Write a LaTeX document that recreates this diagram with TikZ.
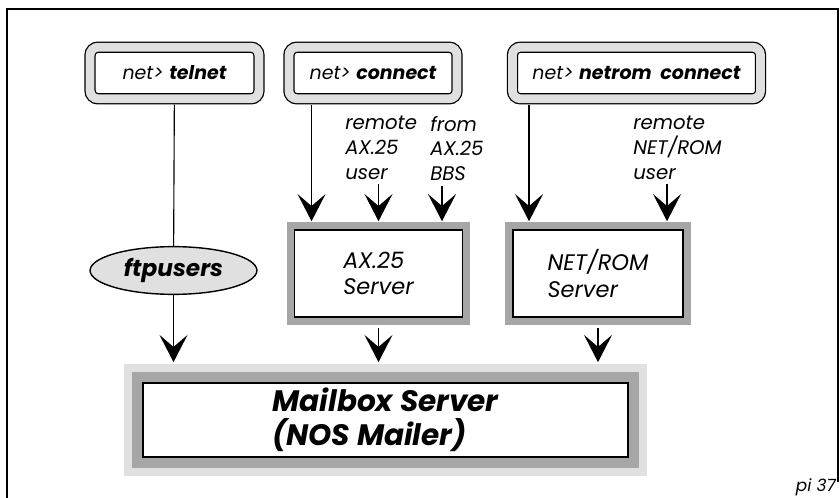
\documentclass[tikz,border=0pt]{standalone}
\usepackage{fontspec}
\setmainfont{Poppins}
\usepackage{tikz}
\usetikzlibrary{arrows.meta, shapes.geometric}

\begin{document}
\begin{tikzpicture}[x=0.025cm, y=-0.025cm,
  cmd/.style={draw, line width=0.9pt, double=black!12, double distance=0.22cm,
    rounded corners=0.2cm, fill=white, minimum height=1.29cm,
    font=\fontsize{13.5}{15}\selectfont\itshape},
  server/.style={draw, line width=1.2pt, fill=white,
    preaction={draw=black!35, line width=0.38cm},
    minimum width=4.2cm, minimum height=2.17cm, align=left,
    font=\fontsize{16}{19}\selectfont\itshape},
  lbl/.style={anchor=north west, inner sep=0pt, align=left,
    font=\fontsize{14}{17.5}\selectfont\itshape},
  arr/.style={line width=0.8pt, -{Stealth[length=0.68cm, width=0.7cm, inset=0.3cm]}}]
\useasboundingbox (0,0) rectangle (840,498);
\draw[line width=1pt] (7,498) -- (7,9) -- (838,9) -- (838,482);
\node[cmd, minimum width=4.22cm] (telnet) at (174.5,73) {net> \textbf{telnet}};
\node[cmd, minimum width=4.2cm] (connect) at (373,73) {net> \textbf{connect}};
\node[cmd, minimum width=6.2cm] (netrom) at (636.5,73) {net> \textbf{netrom\ \ connect}};
\node[ellipse, draw, line width=1pt, fill=black!12, minimum width=4.17cm, minimum height=1.13cm,
  font=\fontsize{16.5}{18}\selectfont\bfseries\itshape] (ftp) at (173.5,270.5) {ftpusers};
\node[server] (axsrv) at (378.5,273.5) {AX.25\\Server};
\node[server, minimum width=4.25cm] (nrsrv) at (598,273.5) {NET/ROM\\Server};
\node[draw, line width=1.2pt, fill=white,
  preaction={draw=black!12, line width=0.95cm}, preaction={draw=black!35, line width=0.55cm},
  minimum width=12.13cm, minimum height=1.85cm, align=left,
  font=\fontsize{21}{24}\selectfont\bfseries\itshape] (mbox) at (385.5,420) {Mailbox Server\\(NOS Mailer)};
\foreach \n/\x/\txt in {lblax/345/{remote\\AX.25\\user}, lblbbs/430/{from\\AX.25\\BBS}, lblnr/633/{remote\\NET/ROM\\user}} {
    \node[lbl] (\n) at (\x,116) {\txt};
}
\node[anchor=south east, inner sep=0pt, font=\fontsize{12}{14}\selectfont\itshape] (fig) at (836,496) {pi 37};
\draw[line width=0.8pt, shorten <=0.13cm] (telnet) -- (ftp);
\draw[arr, shorten >=0.5cm] (ftp) -- (ftp |- mbox.north);
\draw[arr, shorten <=0.13cm, shorten >=0.2cm] ([xshift=0.58cm]connect.south west) -- ([xshift=0.58cm]connect.south west |- axsrv.north);
\draw[arr, shorten <=0.12cm, shorten >=0.2cm] (lblax.south -| axsrv.north) -- (axsrv.north);
\draw[arr, shorten <=0.12cm, shorten >=0.2cm] ([xshift=0.3cm]lblbbs.south west) -- ([xshift=0.3cm]lblbbs.south west |- axsrv.north);
\draw[arr, shorten <=0.13cm, shorten >=0.2cm] ([xshift=0.43cm]netrom.south west) -- ([xshift=0.43cm]netrom.south west |- nrsrv.north);
\draw[arr, shorten <=0.12cm, shorten >=0.2cm] ([xshift=0.85cm]lblnr.south west) -- ([xshift=0.85cm]lblnr.south west |- nrsrv.north);
\foreach \s in {axsrv,nrsrv} {
    \draw[arr, shorten <=0.25cm, shorten >=0.5cm] (\s) -- (\s |- mbox.north);
}
\end{tikzpicture}
\end{document}
